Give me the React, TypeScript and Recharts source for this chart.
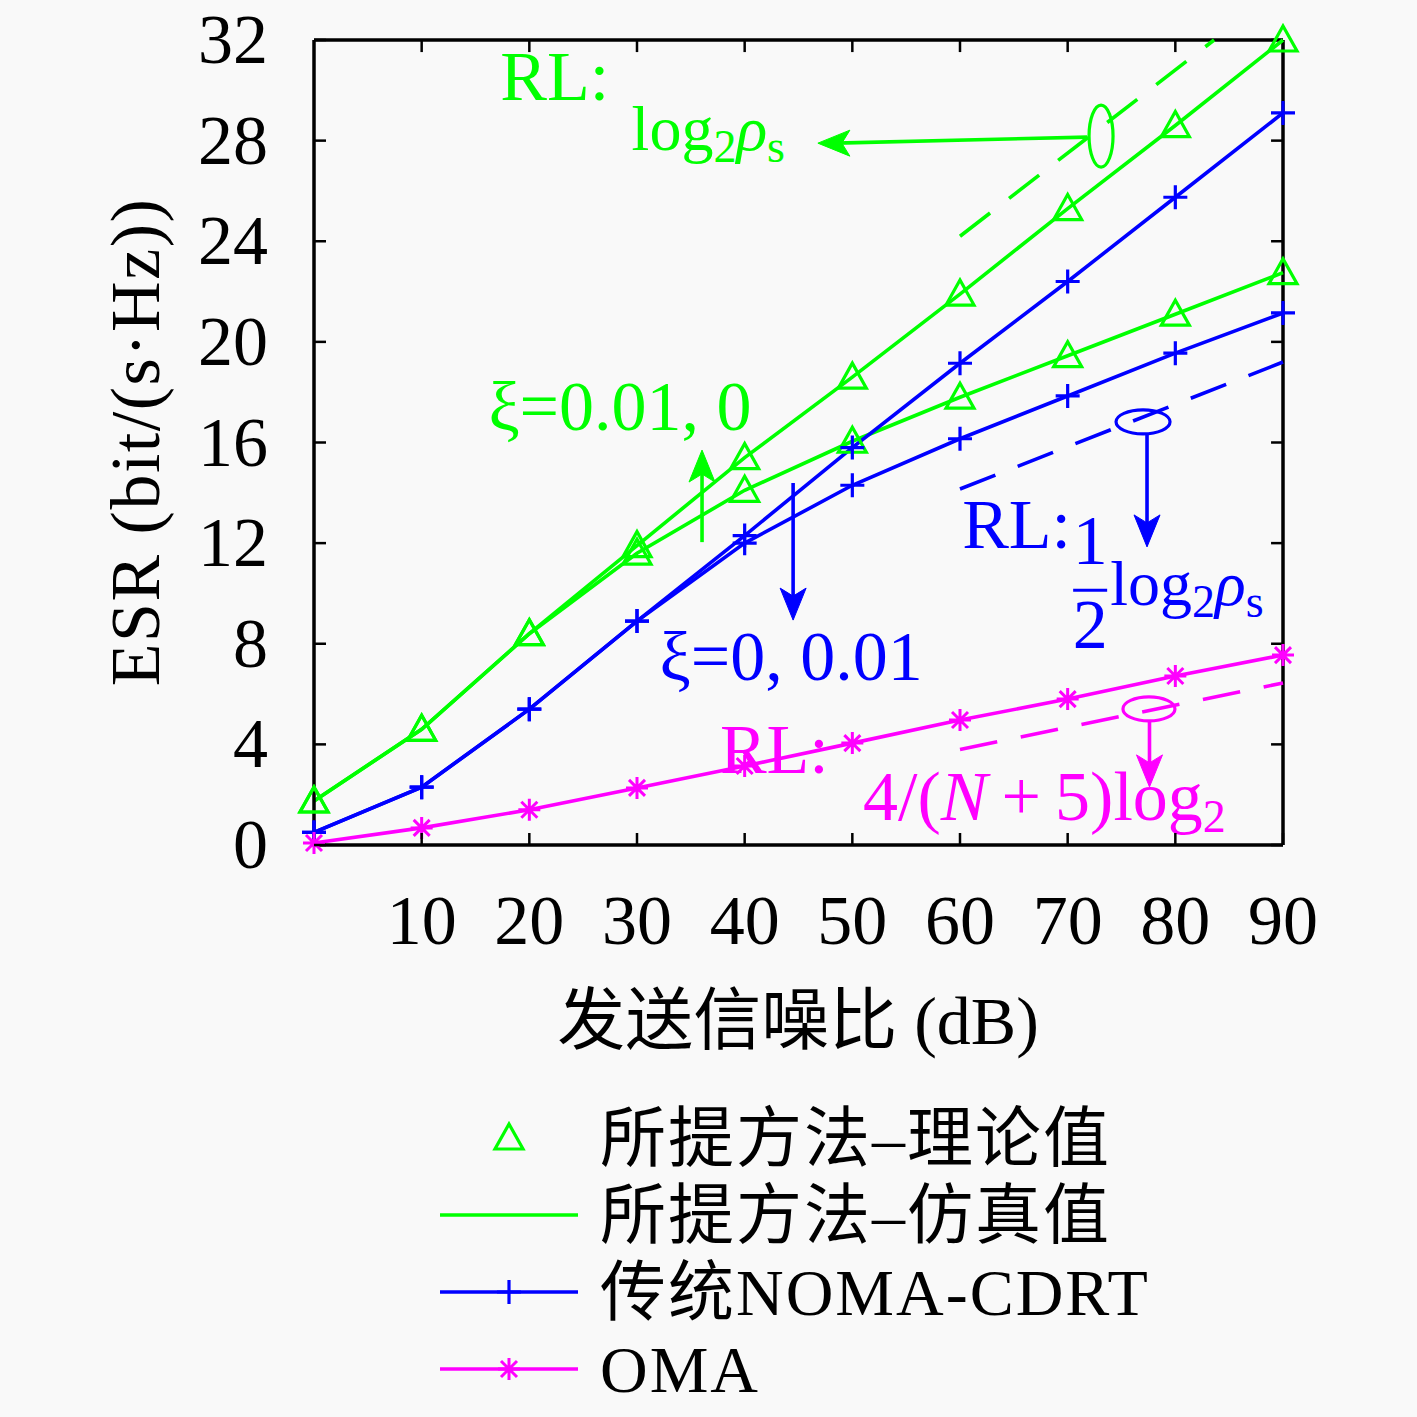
import React from 'react';
import { LineChart, Line, XAxis, YAxis, ReferenceLine, ReferenceDot, Label } from 'recharts';

const snr = [0, 10, 20, 30, 40, 50, 60, 70, 80, 90];
// proposed scheme, xi = 0 / xi = 0.01 (theory and simulation coincide)
const propXi0 = [1.75, 4.6, 8.4, 11.9, 15.4, 18.6, 21.9, 25.3, 28.6, 32.0];
const propXi001 = [1.75, 4.6, 8.4, 11.6, 14.1, 16.05, 17.8, 19.45, 21.1, 22.75];
// conventional NOMA-CDRT
const nomaXi0 = [0.5, 2.3, 5.4, 8.9, 12.3, 15.8, 19.15, 22.4, 25.75, 29.1];
const nomaXi001 = [0.5, 2.3, 5.4, 8.9, 12.0, 14.3, 16.15, 17.85, 19.55, 21.15];
const oma = [0.08, 0.68, 1.4, 2.27, 3.14, 4.05, 4.97, 5.8, 6.72, 7.55];

// rate-loss asymptotes (dashed)
const rlPropX = [60, 83.6];
const rlPropY = [24.2, 32];
const rlNomaX = [60, 90];
const rlNomaY = [14.15, 19.2];
const rlOmaX = [60, 90];
const rlOmaY = [3.8, 6.44];

const xTicks = [10, 20, 30, 40, 50, 60, 70, 80, 90];
const yTicks = [0, 4, 8, 12, 16, 20, 24, 28, 32];

const GREEN = '#00ff00';
const BLUE = '#0000ff';
const MAGENTA = '#ff00ff';
const FONT = '"Liberation Serif", "Noto Sans CJK SC", serif';
const FS = 70;
const SUB = 46;
const LW = 3.6;

const data = snr.map((s, i) => ({
  snr: s,
  propXi0: propXi0[i],
  propXi001: propXi001[i],
  nomaXi0: nomaXi0[i],
  nomaXi001: nomaXi001[i],
  oma: oma[i],
}));
const toPts = (xs: number[], ys: number[]) => xs.map((x, i) => ({ snr: x, v: ys[i] }));

const Triangle = ({ cx, cy, color }: any) => (
  <polygon
    points={`${cx},${cy - 14} ${cx - 14},${cy + 11} ${cx + 14},${cy + 11}`}
    fill="none"
    stroke={color}
    strokeWidth={3.2}
  />
);
const Plus = ({ cx, cy, color }: any) => (
  <path d={`M${cx - 12},${cy}H${cx + 12}M${cx},${cy - 12}V${cy + 12}`} stroke={color} strokeWidth={3.2} />
);
const Star = ({ cx, cy, color }: any) => (
  <path
    d={`M${cx - 11},${cy}H${cx + 11}M${cx},${cy - 11}V${cy + 11}M${cx - 8},${cy - 8}L${cx + 8},${cy + 8}M${cx - 8},${cy + 8}L${cx + 8},${cy - 8}`}
    stroke={color}
    strokeWidth={3}
  />
);

const dotOf = (Comp: any, color: string) => (p: any) => (
  <g key={`d-${p.index}-${p.cx}`}>
    <Comp cx={p.cx} cy={p.cy} color={color} />
  </g>
);

// inward tick marks, MATLAB style
const BottomTick = ({ x, y, payload }: any) => (
  <g>
    <line x1={x} y1={y} x2={x} y2={y - 12} stroke="#000" strokeWidth={2.5} />
    <text x={x} y={y + 99} textAnchor="middle" fontFamily={FONT} fontSize={FS} fill="#000">
      {payload.value}
    </text>
  </g>
);
const LeftTick = ({ x, y, payload }: any) => (
  <g>
    <line x1={x} y1={y} x2={x + 12} y2={y} stroke="#000" strokeWidth={2.5} />
    <text x={x - 46} y={y + 23} textAnchor="end" fontFamily={FONT} fontSize={FS} fill="#000">
      {payload.value}
    </text>
  </g>
);

const arrowHead = (dir: 'left' | 'up' | 'down', color: string) => (p: any) => {
  const { cx, cy } = p;
  const L = 32;
  const W = 13;
  const N = 8;
  let d = '';
  if (dir === 'left') d = `M${cx},${cy}L${cx + L},${cy - W}L${cx + L - N},${cy}L${cx + L},${cy + W}Z`;
  if (dir === 'up') d = `M${cx},${cy}L${cx - W},${cy + L}L${cx},${cy + L - N}L${cx + W},${cy + L}Z`;
  if (dir === 'down') d = `M${cx},${cy}L${cx - W},${cy - L}L${cx},${cy - L + N}L${cx + W},${cy - L}Z`;
  return <path d={d} fill={color} stroke={color} strokeWidth={1} />;
};
const ellipse = (rx: number, ry: number, color: string) => (p: any) => (
  <ellipse cx={p.cx} cy={p.cy} rx={rx} ry={ry} fill="none" stroke={color} strokeWidth={3.2} />
);
const txt = (content: React.ReactNode, color: string, size = FS) => (p: any) => (
  <text x={p.cx} y={p.cy} fontFamily={FONT} fontSize={size} fill={color}>
    {content}
  </text>
);

const LogRho = () => (
  <>
    <tspan>log</tspan>
    <tspan fontSize={SUB} dy={12}>2</tspan>
    <tspan fontStyle="italic" dy={-12}>ρ</tspan>
    <tspan fontSize={SUB} dy={12}>s</tspan>
  </>
);

const NomaRL = (p: any) => {
  const { cx, cy } = p;
  return (
    <g fontFamily={FONT} fill={BLUE}>
      <text x={cx} y={cy} fontSize={FS}>RL:</text>
      <text x={cx + 128} y={cy + 16} fontSize={FS} textAnchor="middle">1</text>
      <line x1={cx + 111} y1={cy + 42} x2={cx + 145} y2={cy + 42} stroke={BLUE} strokeWidth={3} />
      <text x={cx + 128} y={cy + 100} fontSize={FS} textAnchor="middle">2</text>
      <text x={cx + 148} y={cy + 57} fontSize={64}>
        <LogRho />
      </text>
    </g>
  );
};

const legendRows = [
  { label: '所提方法–理论值', color: GREEN, line: false, mark: Triangle },
  { label: '所提方法–仿真值', color: GREEN, line: true, mark: null },
  { label: '传统NOMA-CDRT', color: BLUE, line: true, mark: Plus },
  { label: 'OMA', color: MAGENTA, line: true, mark: Star },
];

export default function App() {
  return (
    <div style={{ position: 'absolute', left: 0, top: 0, width: 1417, height: 1417, background: '#f9f9f9' }}>
      <LineChart width={1417} height={1060} data={data} margin={{ top: 40, right: 134, left: 214, bottom: 15 }}>
        <XAxis
          dataKey="snr"
          type="number"
          domain={[0, 90]}
          ticks={xTicks}
          tickSize={0}
          tickMargin={0}
          tick={<BottomTick />}
          height={200}
          axisLine={{ stroke: '#000', strokeWidth: 3.5 }}
          tickLine={false}
          interval={0}
        >
          <Label
            content={() => (
              <text x={798} y={1044} textAnchor="middle" fontFamily={FONT} fontSize={68} fill="#000">
                发送信噪比 (dB)
              </text>
            )}
          />
        </XAxis>
        <YAxis
          type="number"
          domain={[0, 32]}
          ticks={yTicks}
          tickSize={0}
          tickMargin={0}
          tick={<LeftTick />}
          width={100}
          axisLine={{ stroke: '#000', strokeWidth: 3.5 }}
          tickLine={false}
          interval={0}
        >
          <Label
            content={() => (
              <text
                x={159}
                y={442}
                transform="rotate(-90 159 442)"
                textAnchor="middle"
                fontFamily={FONT}
                fontSize={70}
                letterSpacing={1.5}
                fill="#000"
              >
                ESR (bit/(s·Hz))
              </text>
            )}
          />
        </YAxis>

        {/* box: top and right edges with inward ticks */}
        <ReferenceLine segment={[{ x: 0, y: 32 }, { x: 90, y: 32 }]} stroke="#000" strokeWidth={3.5} />
        <ReferenceLine segment={[{ x: 90, y: 0 }, { x: 90, y: 32 }]} stroke="#000" strokeWidth={3.5} />
        {xTicks.map((v) => (
          <ReferenceLine key={`tt${v}`} segment={[{ x: v, y: 32 }, { x: v, y: 31.52 }]} stroke="#000" strokeWidth={2.5} />
        ))}
        {yTicks.map((v) => (
          <ReferenceLine key={`rt${v}`} segment={[{ x: 90, y: v }, { x: 88.89, y: v }]} stroke="#000" strokeWidth={2.5} />
        ))}

        {/* asymptotes */}
        <Line data={toPts(rlPropX, rlPropY)} dataKey="v" stroke={GREEN} strokeWidth={LW} strokeDasharray="38 24" dot={false} isAnimationActive={false} />
        <Line data={toPts(rlNomaX, rlNomaY)} dataKey="v" stroke={BLUE} strokeWidth={LW} strokeDasharray="38 24" dot={false} isAnimationActive={false} />
        <Line data={toPts(rlOmaX, rlOmaY)} dataKey="v" stroke={MAGENTA} strokeWidth={LW} strokeDasharray="38 24" dot={false} isAnimationActive={false} />

        {/* annotations */}
        <ReferenceDot x={37.7} y={2.86} r={0} shape={txt('RL:', MAGENTA)} />
        <ReferenceDot x={17.3} y={29.62} r={0} shape={txt('RL:', GREEN)} />
        <ReferenceDot x={29.5} y={27.63} r={0} shape={txt(<LogRho />, GREEN, 64)} />
        <ReferenceDot x={73.1} y={28.18} r={0} shape={ellipse(12, 31, GREEN)} />
        <ReferenceLine segment={[{ x: 71.8, y: 28.14 }, { x: 48.5, y: 27.9 }]} stroke={GREEN} strokeWidth={LW} />
        <ReferenceDot x={46.8} y={27.9} r={0} shape={arrowHead('left', GREEN)} />
        <ReferenceDot x={16.2} y={16.5} r={0} shape={txt('ξ=0.01, 0', GREEN)} />
        <ReferenceLine segment={[{ x: 36.04, y: 12.04 }, { x: 36.04, y: 15.0 }]} stroke={GREEN} strokeWidth={LW} />
        <ReferenceDot x={36.04} y={15.7} r={0} shape={arrowHead('up', GREEN)} />
        <ReferenceLine segment={[{ x: 44.5, y: 14.39 }, { x: 44.5, y: 9.6 }]} stroke={BLUE} strokeWidth={LW} />
        <ReferenceDot x={44.5} y={8.94} r={0} shape={arrowHead('down', BLUE)} />
        <ReferenceDot x={32.1} y={6.56} r={0} shape={txt('ξ=0, 0.01', BLUE)} />
        <ReferenceDot x={77.0} y={16.82} r={0} shape={ellipse(27, 12, BLUE)} />
        <ReferenceLine segment={[{ x: 77.37, y: 16.34 }, { x: 77.37, y: 12.5 }]} stroke={BLUE} strokeWidth={LW} />
        <ReferenceDot x={77.37} y={11.85} r={0} shape={arrowHead('down', BLUE)} />
        <ReferenceDot x={60.2} y={11.8} r={0} shape={NomaRL} />
        <ReferenceDot x={77.55} y={5.41} r={0} shape={ellipse(26, 12, MAGENTA)} />
        <ReferenceLine segment={[{ x: 77.6, y: 4.93 }, { x: 77.6, y: 3.0 }]} stroke={MAGENTA} strokeWidth={LW} />
        <ReferenceDot x={77.6} y={2.31} r={0} shape={arrowHead('down', MAGENTA)} />
        <ReferenceDot
          x={51.0}
          y={0.99}
          r={0}
          shape={txt(
            <>
              <tspan>4/(</tspan>
              <tspan fontStyle="italic">N</tspan>
              <tspan>{'\u2009+\u20095)log'}</tspan>
              <tspan fontSize={SUB} dy={12}>2</tspan>
            </>,
            MAGENTA,
          )}
        />

        {/* series */}
        <Line dataKey="propXi0" stroke={GREEN} strokeWidth={LW} dot={false} isAnimationActive={false} />
        <Line dataKey="propXi001" stroke={GREEN} strokeWidth={LW} dot={false} isAnimationActive={false} />
        <Line dataKey="propXi0" stroke="none" dot={dotOf(Triangle, GREEN)} isAnimationActive={false} />
        <Line dataKey="propXi001" stroke="none" dot={dotOf(Triangle, GREEN)} isAnimationActive={false} />
        <Line dataKey="nomaXi0" stroke={BLUE} strokeWidth={LW} dot={dotOf(Plus, BLUE)} isAnimationActive={false} />
        <Line dataKey="nomaXi001" stroke={BLUE} strokeWidth={LW} dot={dotOf(Plus, BLUE)} isAnimationActive={false} />
        <Line dataKey="oma" stroke={MAGENTA} strokeWidth={LW} dot={dotOf(Star, MAGENTA)} isAnimationActive={false} />
      </LineChart>

      <svg width={1417} height={357} style={{ position: 'absolute', left: 0, top: 1060 }}>
        {legendRows.map((r, i) => {
          const cy = 78 + i * 77;
          const M = r.mark as any;
          return (
            <g key={r.label}>
              {r.line && <line x1={440} y1={cy} x2={578} y2={cy} stroke={r.color} strokeWidth={LW} />}
              {M && <M cx={509} cy={cy} color={r.color} />}
              <text x={600} y={cy + 23} fontFamily={FONT} fontSize={66} letterSpacing={2} fill="#000">
                {r.label}
              </text>
            </g>
          );
        })}
      </svg>
    </div>
  );
}
